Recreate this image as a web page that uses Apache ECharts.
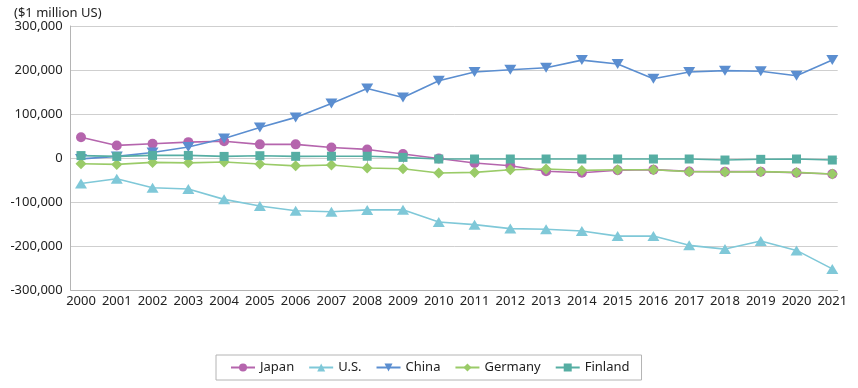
<!DOCTYPE html>
<html>
<head>
<meta charset="utf-8">
<script src="https://cdn.jsdelivr.net/npm/echarts@6/dist/echarts.min.js"></script>
<style>
html,body{margin:0;padding:0;background:#fff;}
#c{width:858px;height:388px;}
</style>
</head>
<body>
<div id="c"></div>
<script>
const years = ['2000','2001','2002','2003','2004','2005','2006','2007','2008','2009','2010','2011','2012','2013','2014','2015','2016','2017','2018','2019','2020','2021'];
const japan   = [47000, 28600, 32500, 36000, 38000, 31000, 31000, 24000, 19500, 9000, -1000, -11500, -17500, -30000, -33500, -28000, -26500, -30500, -31000, -31000, -33500, -36500];
const us      = [-58000, -47000, -67500, -70500, -94000, -109000, -120000, -122000, -118000, -117500, -145500, -151500, -160500, -162000, -166000, -177500, -177500, -198500, -207000, -188500, -210000, -252000];
const china   = [-2000, 3600, 12500, 25000, 44500, 69500, 92300, 124000, 158000, 137500, 175500, 195500, 200500, 205000, 222500, 213500, 180000, 195500, 198500, 197000, 187000, 222500];
const germany = [-13000, -14500, -10000, -11000, -9000, -13500, -17800, -16000, -22700, -24300, -34000, -32700, -26600, -25000, -28200, -26600, -26600, -31000, -31800, -31000, -32700, -36400];
const finland = [5500, 3600, 5900, 5900, 3600, 5200, 3800, 4000, 4000, 1400, -2300, -2300, -2300, -2300, -2300, -2300, -2300, -2300, -4600, -3000, -2300, -4600];
const yTicks = [-300000, 300000, 100000]; // min, max, interval
const unitLabel = '($1 million US)';

const FONT = 'Noto Sans';
const chart = echarts.init(document.getElementById('c'), null, {renderer: 'canvas'});

function mk(name, data, color, symbol, size, rotate) {
  return {
    name: name, type: 'line', data: data,
    xAxisIndex: 0, yAxisIndex: 0,
    symbol: symbol, symbolSize: size, symbolRotate: rotate || 0,
    showAllSymbol: true,
    lineStyle: {color: color, width: 1.6},
    itemStyle: {color: color, borderColor: color, borderWidth: 0},
    emphasis: {disabled: true}
  };
}

chart.setOption({
  animation: false,
  backgroundColor: '#fff',
  textStyle: {fontFamily: FONT},
  title: {
    text: unitLabel, left: 9, top: 2,
    textStyle: {fontFamily: FONT, fontSize: 13, fontWeight: 'normal', color: '#222'}
  },
  legend: {
    left: 216, top: 355,
    padding: [6, 12, 6, 14],
    itemGap: 14, itemWidth: 24, itemHeight: 10,
    borderColor: '#b4b4b4', borderWidth: 1,
    textStyle: {fontFamily: FONT, fontSize: 13, color: '#222'},
    data: ['Japan', 'U.S.', 'China', 'Germany', 'Finland']
  },
  grid: [
    {left: 81, right: 25.7, top: 26, bottom: 98},
    {left: 70.7, right: 20.3, top: 26, bottom: 98}
  ],
  xAxis: [
    {
      type: 'category', gridIndex: 0, data: years, boundaryGap: false,
      axisLine: {show: false},
      axisTick: {show: true, alignWithLabel: true, length: 5, lineStyle: {color: '#bdbdbd'}},
      axisLabel: {fontFamily: FONT, fontSize: 13, color: '#222', margin: 5, interval: 0},
      splitLine: {show: false}
    },
    {
      type: 'value', gridIndex: 1, min: 0, max: 1,
      axisLine: {show: true, onZero: false, lineStyle: {color: '#b4b4b4', width: 1}},
      axisTick: {show: false}, axisLabel: {show: false}, splitLine: {show: false}
    }
  ],
  yAxis: [
    {
      type: 'value', gridIndex: 0, min: yTicks[0], max: yTicks[1], interval: yTicks[2],
      show: false, splitLine: {show: false}
    },
    {
      type: 'value', gridIndex: 1, min: yTicks[0], max: yTicks[1], interval: yTicks[2],
      axisLine: {show: true, onZero: false, lineStyle: {color: '#b4b4b4', width: 1}},
      axisTick: {show: false},
      axisLabel: {fontFamily: FONT, fontSize: 13, color: '#222', margin: 8,
        formatter: v => v.toLocaleString('en-US')},
      splitLine: {show: true, lineStyle: {color: '#cfcfcf', width: 1}}
    }
  ],
  series: [
    mk('Japan', japan, '#b565ad', 'circle', 10),
    mk('U.S.', us, '#7fc8d8', 'triangle', [12, 10]),
    mk('China', china, '#5b8ed0', 'triangle', [12, 10], 180),
    mk('Germany', germany, '#9acb68', 'diamond', 11),
    mk('Finland', finland, '#56aea3', 'rect', 9)
  ]
});
</script>
</body>
</html>
